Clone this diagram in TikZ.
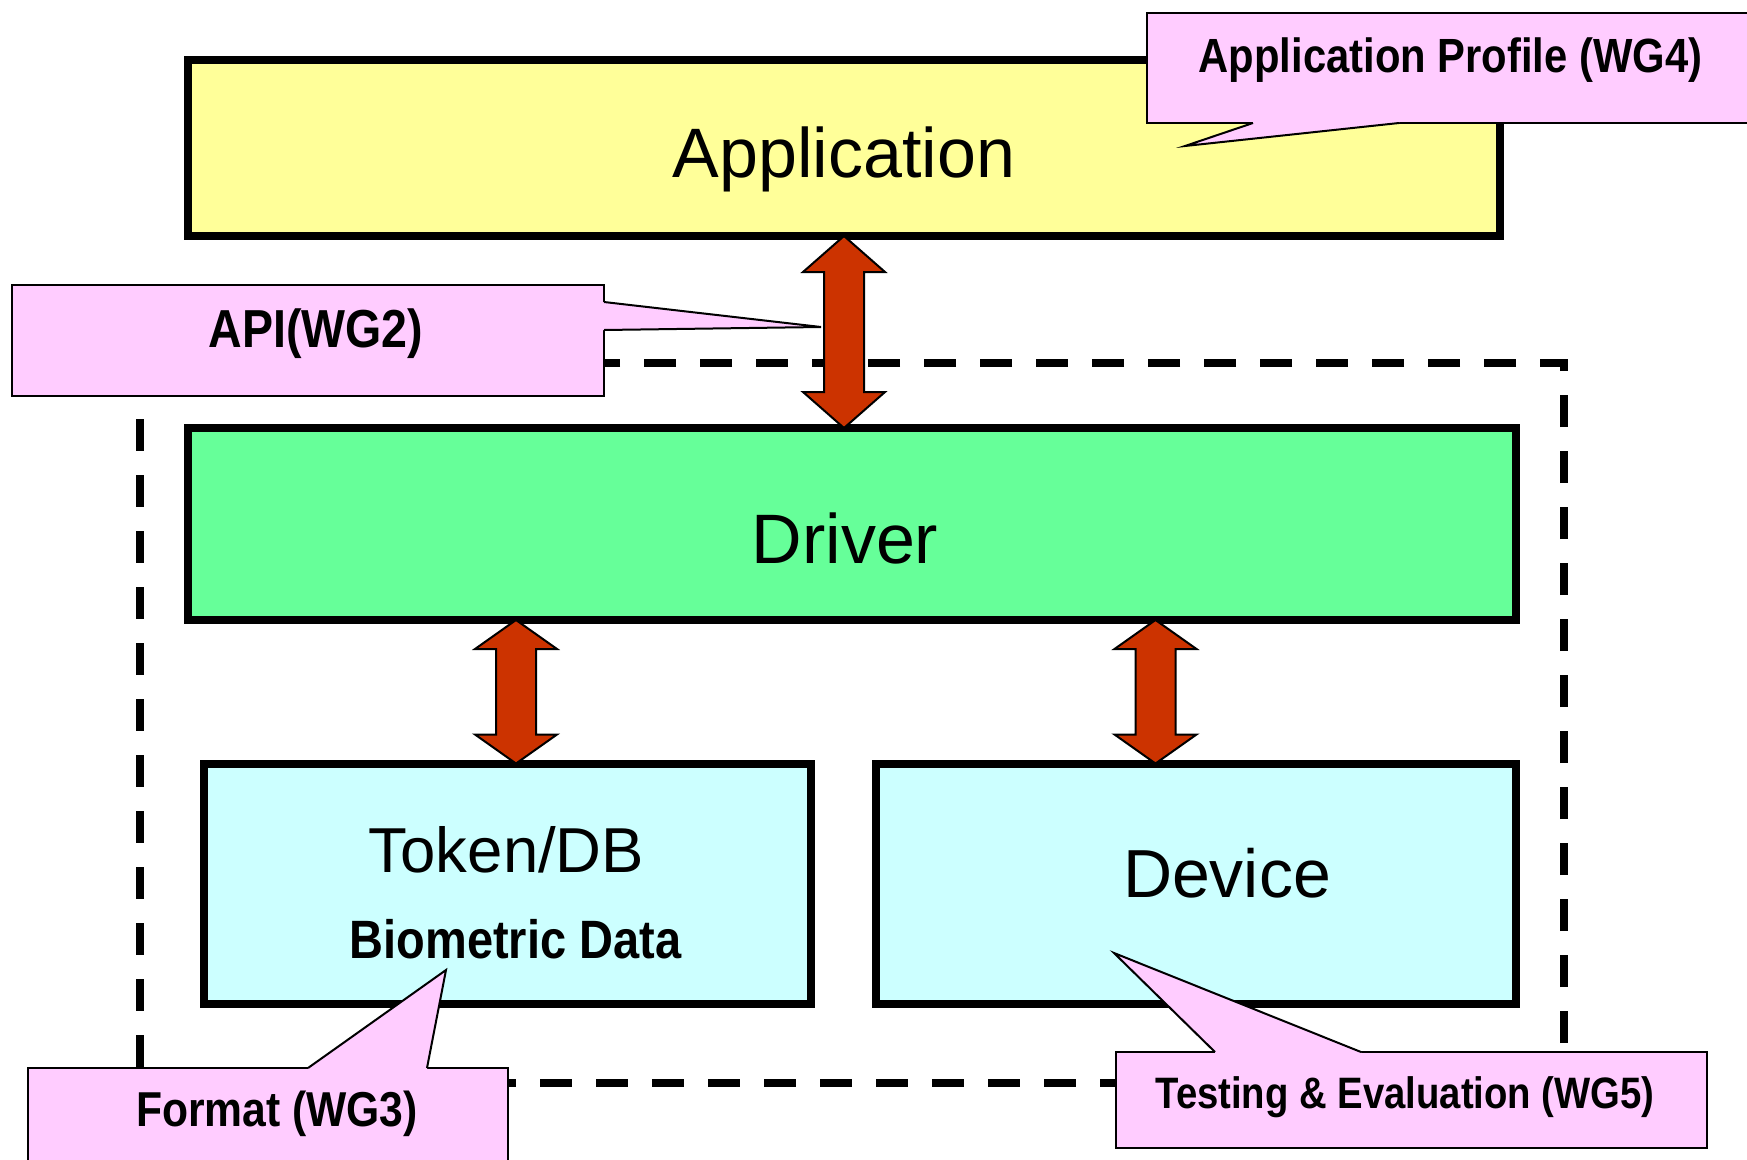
\documentclass[tikz,border=0pt]{standalone}
\usepackage{fontspec}
\setmainfont{Liberation Sans}
\newfontfamily\notefont[FakeStretch=0.87]{Liberation Sans Bold}
\usetikzlibrary{positioning, calc}

\definecolor{appyellow}{RGB}{255,255,153}
\definecolor{drivergreen}{RGB}{102,255,153}
\definecolor{devcyan}{RGB}{204,255,255}
\definecolor{notepink}{RGB}{255,204,255}
\definecolor{arrowred}{RGB}{204,51,0}

\tikzset{
	block/.style={draw, line width=8pt, outer sep=0pt, inner sep=0pt},
	note/.style={draw, line width=2pt, fill=notepink, outer sep=0pt, inner sep=0pt},
	fatarrow/.style={draw, line width=2pt, fill=arrowred, line join=miter},
	bigtext/.style={font=\fontsize{70}{80}\selectfont, inner sep=0pt, anchor=base},
	notetext/.style={font=\notefont\fontsize{48}{56}\selectfont, inner sep=0pt, anchor=base},
}

% up-down block arrow: [head length]{upper anchor}{lower anchor}
\newcommand{\dblarrow}[3][30]{%
	\draw[fatarrow] let \p1=(#3), \p2=(#2) in
		(\x1,\y2) -- ++(41,-#1) -- ++(-21,0) -- (\x1+20,\y1+#1) -- ++(21,0)
		-- (\x1,\y1) -- ++(-41,#1) -- ++(21,0) -- (\x1-20,\y2-#1) -- ++(-21,0) -- cycle;}

% pointer of a note: {base a}{base b}{tip}{shift into the note}
\newcommand{\notepointer}[4]{%
	\fill[notepink] (#1) -- (#3) -- (#2) -- ($(#2)+#4$) -- ($(#1)+#4$) -- cycle;
	\draw[line width=2pt, line join=miter] (#1) -- (#3) -- (#2);}

\begin{document}
\begin{tikzpicture}[x=1pt, y=1pt]
				\useasboundingbox (0,0) rectangle (1747,-1159);
				\clip (0,0) rectangle (1747,-1159);
				
				% dashed frame
				\draw[line width=8pt, dash pattern=on 32pt off 24pt] (140,-363) rectangle (1564,-1083);
				
				% layers
				\node[block, fill=appyellow, minimum width=1312, minimum height=176] (app) at (844,-148) {};
				\node[block, fill=drivergreen, minimum width=1328, minimum height=192] (drv) at (852,-524) {};
				\node[block, fill=devcyan, minimum width=607, minimum height=240] (tok) at (507.5,-883.5) {};
				\node[block, fill=devcyan, minimum width=640, minimum height=240] (dev) at (1196,-883.5) {};
				
				\node[bigtext] (apptxt) at ([yshift=-29]app.center) {Application};
				\node[bigtext] (drvtxt) at ([shift={(-7,-39)}]drv.center) {Driver};
				\node[bigtext, font=\fontsize{63.5}{70}\selectfont] (toktxt) at ([shift={(-1,11)}]tok.center) {Token/DB};
				\node[notetext, font=\notefont\fontsize{54}{60}\selectfont] (biotxt) at ([shift={(8,-74.5)}]tok.center) {Biometric Data};
				\node[bigtext, font=\fontsize{68}{76}\selectfont] (devtxt) at ([shift={(31,-13.5)}]dev.center) {Device};
				
				% links
				\dblarrow[36]{app.south}{app.south |- drv.north}
				\dblarrow[29]{drv.south}{[xshift=8.5]tok.north}
				\dblarrow[29]{drv.south}{[xshift=-40.5]dev.north}
				
				% API note
				\node[note, minimum width=592, minimum height=111] (api) at (308,-340.5) {};
				\coordinate (apia) at ([yshift=-17]api.north east);
				\coordinate (apib) at ([yshift=-45]api.north east);
				\coordinate (apitip) at (821,-327);
				\notepointer{apia}{apib}{apitip}{(-4,0)}
				\node[notetext, font=\notefont\fontsize{53.5}{60}\selectfont] (apitxt) at ([shift={(8,-7)}]api.center) {API(WG2)};
				
				% application profile note
				\node[note, minimum width=613, minimum height=110] (prof) at (1453.5,-68) {};
				\coordinate (profa) at ([xshift=106]prof.south west);
				\coordinate (profb) at ([xshift=252]prof.south west);
				\coordinate (proftip) at (1185,-146);
				\notepointer{profa}{profb}{proftip}{(0,4)}
				\node[notetext] (proftxt) at ([shift={(-3,-4)}]prof.center) {Application Profile (WG4)};
				
				% format note
				\node[note, minimum width=480, minimum height=112] (fmt) at (268,-1124) {};
				\coordinate (fmta) at ([xshift=280]fmt.north west);
				\coordinate (fmtb) at ([xshift=399]fmt.north west);
				\coordinate (fmttip) at (446,-970);
				\notepointer{fmta}{fmtb}{fmttip}{(0,-4)}
				\node[notetext, font=\notefont\fontsize{49}{56}\selectfont] (fmttxt) at ([shift={(9,-2)}]fmt.center) {Format (WG3)};
				
				% testing note
				\node[note, minimum width=591, minimum height=96] (test) at (1411.5,-1100) {};
				\coordinate (testa) at ([xshift=99]test.north west);
				\coordinate (testb) at ([xshift=245]test.north west);
				\coordinate (testtip) at (1114,-953);
				\notepointer{testa}{testb}{testtip}{(0,-4)}
				\node[notetext, font=\notefont\fontsize{44}{52}\selectfont] (testtxt) at ([shift={(-6.5,-8)}]test.center) {Testing \& Evaluation (WG5)};
			\end{tikzpicture}
\end{document}
